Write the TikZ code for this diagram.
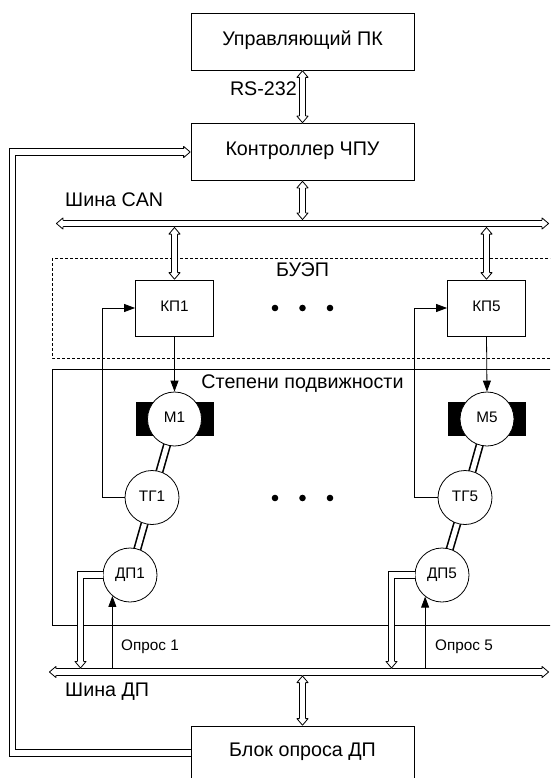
\documentclass[tikz,border=0pt]{standalone}
\usepackage{fontspec}
\setmainfont{Liberation Sans}
\usetikzlibrary{arrows.meta,backgrounds}
\tikzset{
  ahead/.pic={
    \fill[white] (0.3,0) -- (-7,5.6) -- (-7,-5.6) -- cycle;
    \draw[line width=0.8pt, line join=round] (-7,3.15) -- (-7,5.6) -- (-0.4,0) -- (-7,-5.6) -- (-7,-3.15);
  }
}
\begin{document}
\begin{tikzpicture}[x=1pt,y=-1pt,
  big/.style={font=\fontsize{19.7}{23}\selectfont, text height=0.72em, text depth=0pt},
  small/.style={font=\fontsize{15.3}{18}\selectfont, text height=0.72em, text depth=0pt},
  lbl/.style={inner sep=0pt},
  blockbox/.style={draw, line width=0.8pt, minimum width=223pt, minimum height=57pt, inner sep=0pt, big},
  kpbox/.style={draw, line width=0.8pt, minimum width=78pt, minimum height=56pt, inner sep=0pt, small},
  unit/.style={draw, circle, fill=white, line width=0.8pt, minimum size=54pt, inner sep=0pt, small},
  motorbar/.style={fill=black, minimum width=78pt, minimum height=34pt, inner sep=0pt},
  dbl/.style={double, double distance=5.5pt, line width=0.8pt},
  shaft/.style={double, double distance=5pt, line width=1.6pt},
  sig/.style={line width=0.8pt, -{Triangle[length=11pt,width=8pt]}},
  dotmark/.style={circle, fill=black, inner sep=0pt, minimum size=6.6pt}
]
\clip (0,0) rectangle (550,778);
\useasboundingbox (0,0) rectangle (550,778);

% frames
\draw[line width=0.7pt, dash pattern=on 3pt off 2pt] (52,258) rectangle (560,358);
\draw[line width=0.8pt] (52,369) rectangle (560,625);

% blocks
\node[blockbox] (pc) at (302.5,41.5) {Управляющий ПК};
\node[blockbox] (cnc) at (302.5,152) {Контроллер ЧПУ};
\node[blockbox, minimum height=54pt] (blk) at (302.5,753) {Блок опроса ДП};
\node[kpbox] (kp1) at (174.5,308) {КП1};
\node[kpbox] (kp5) at (486.5,308) {КП5};

\node[motorbar] (mb1) at (174.5,419) {};
\node[motorbar] (mb5) at (487,419) {};
\node[unit] (m1) at (174.5,419) {М1};
\node[unit] (m5) at (487,419) {М5};
\node[unit] (tg1) at (152,497.5) {ТГ1};
\node[unit] (tg5) at (465,497.5) {ТГ5};
\node[unit] (dp1) at (130,575) {ДП1};
\node[unit] (dp5) at (442,575) {ДП5};

% labels
\node[big, lbl, anchor=east] (rs) at (297,92) {RS-232};
\node[big, lbl, anchor=west] (canlbl) at (65,202.5) {Шина CAN};
\node[big, lbl] (buep) at (302.5,273.3) {БУЭП};
\node[big, lbl] (stp) at (302.5,385) {Степени подвижности};
\node[small, lbl, anchor=west] (op1) at (121,646.7) {Опрос 1};
\node[small, lbl, anchor=west] (op5) at (435,646.7) {Опрос 5};
\node[big, lbl, anchor=west] (dplbl) at (65,693.3) {Шина ДП};

% dots
\foreach \i/\xx in {1/275,2/302.5,3/330}{
  \node[dotmark] (da\i) at (\xx,308) {};
  \node[dotmark] (db\i) at (\xx,498) {};
}

% coordinates on buses
\coordinate (canL) at (56,223.5);
\coordinate (canR) at (549,223.5);
\coordinate (canT) at (302.5,219.9);
\coordinate (canB1) at (174.5,227.1);
\coordinate (canB5) at (486.5,227.1);
\coordinate (dpL) at (49,672);
\coordinate (dpR) at (549,672);
\coordinate (dpB) at (302.5,675.6);
\coordinate (dpT1) at (80.5,668.4);
\coordinate (dpT5) at (391.5,668.4);
\coordinate (fbx) at (12.7,152);
\coordinate (fb1) at (102.3,308);
\coordinate (fb5) at (414,308);

% shafts
\begin{scope}[on background layer]
  \draw[shaft] (m1.center) -- (tg1.center);
  \draw[shaft] (tg1.center) -- (dp1.center);
  \draw[shaft] (m5.center) -- (tg5.center);
  \draw[shaft] (tg5.center) -- (dp5.center);
\end{scope}

% RS-232
\draw[dbl, shorten <=6.6pt, shorten >=6.6pt] (pc.south) -- (cnc.north);
\pic[rotate=90] at (pc.south) {ahead};
\pic[rotate=-90] at (cnc.north) {ahead};

% CAN bus
\draw[dbl, shorten <=6.6pt, shorten >=6.6pt] (canL) -- (canR);
\pic[rotate=180] at (canL) {ahead};
\pic at (canR) {ahead};

\draw[dbl, shorten <=6.6pt, shorten >=6.6pt] (cnc.south) -- (canT);
\pic[rotate=90] at (cnc.south) {ahead};
\pic[rotate=-90] at (canT) {ahead};

\draw[dbl, shorten <=6.6pt, shorten >=6.6pt] (canB1) -- (kp1.north);
\pic[rotate=90] at (canB1) {ahead};
\pic[rotate=-90] at (kp1.north) {ahead};

\draw[dbl, shorten <=6.6pt, shorten >=6.6pt] (canB5) -- (kp5.north);
\pic[rotate=90] at (canB5) {ahead};
\pic[rotate=-90] at (kp5.north) {ahead};

% control signals
\draw[sig] (kp1.south) -- (m1.north);
\draw[sig] (kp5.south) -- (m5.north);
\draw[sig] (tg1.west) -| (fb1) -- (kp1.west);
\draw[sig] (tg5.west) -| (fb5) -- (kp5.west);

% DP bus
\draw[dbl, shorten <=6.6pt, shorten >=6.6pt] (dpL) -- (dpR);
\pic[rotate=180] at (dpL) {ahead};
\pic at (dpR) {ahead};

\draw[dbl, shorten >=6.6pt] (dp1.west) -| (dpT1);
\pic[rotate=-90] at (dpT1) {ahead};
\draw[dbl, shorten >=6.6pt] (dp5.west) -| (dpT5);
\pic[rotate=-90] at (dpT5) {ahead};

\draw[sig] (dp1.230 |- dpT1) -- (dp1.230);
\draw[sig] (dp5.232 |- dpT5) -- (dp5.232);

\draw[dbl, shorten <=6.6pt, shorten >=6.6pt] (dpB) -- (blk.north);
\pic[rotate=90] at (dpB) {ahead};
\pic[rotate=-90] at (blk.north) {ahead};

% feedback to controller
\draw[dbl, shorten >=6.6pt] (blk.west) -| (fbx) -- (cnc.west);
\pic at (cnc.west) {ahead};
\end{tikzpicture}
\end{document}
